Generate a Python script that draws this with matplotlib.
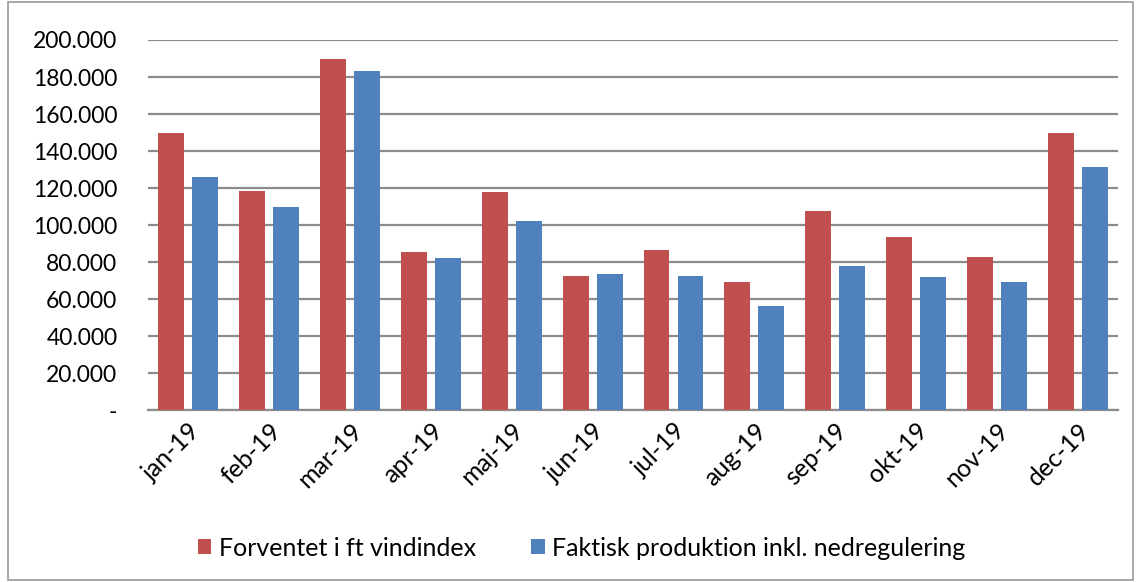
import matplotlib.pyplot as plt
import numpy as np
from matplotlib.patches import Rectangle
from matplotlib.ticker import FuncFormatter

plt.rcParams['font.family'] = ['Lato', 'DejaVu Sans']

months = ["jan-19", "feb-19", "mar-19", "apr-19", "maj-19", "jun-19",
          "jul-19", "aug-19", "sep-19", "okt-19", "nov-19", "dec-19"]
forventet = [150000, 118500, 190000, 85800, 118200, 72800,
             86900, 69600, 107800, 93800, 82600, 150000]
faktisk = [126200, 109800, 183500, 82500, 102200, 73900,
           72800, 56400, 78200, 72000, 69600, 131500]
series_names = ["Forventet i ft vindindex", "Faktisk produktion inkl. nedregulering"]

red = "#C0504D"
blue = "#4F81BD"
grid_col = "#8C8C8C"

fig = plt.figure(figsize=(11.41, 5.82), dpi=100)
ax = fig.add_axes([0.1297, 0.2947, 0.8503, 0.6366])

x = np.arange(len(months))
w = 0.32
ax.bar(x - 0.21, forventet, width=w, color=red, label=series_names[0], zorder=3)
ax.bar(x + 0.21, faktisk, width=w, color=blue, label=series_names[1], zorder=3)

ax.set_xlim(-0.5, len(months) - 0.5)
ax.set_ylim(0, 200000)
ax.set_yticks(range(0, 200001, 20000))


def fmt(v, pos):
    if v == 0:
        return "-"
    return f"{int(v):,}".replace(",", ".")


ax.yaxis.set_major_formatter(FuncFormatter(fmt))
ax.grid(axis='y', color=grid_col, linewidth=1.6, zorder=0)
ax.tick_params(axis='y', length=0, pad=22, labelsize=16.5)
ax.tick_params(axis='x', length=0, pad=6, labelsize=18)
ax.set_xticks(x)
ax.set_xticklabels(months, rotation=45, ha='right', rotation_mode='anchor')
for s in ['top', 'right', 'left']:
    ax.spines[s].set_visible(False)
ax.spines['bottom'].set_color(grid_col)
ax.spines['bottom'].set_linewidth(1.6)

fig.legend(loc='center', bbox_to_anchor=(0.5096, 0.058), ncol=2, frameon=False,
           fontsize=18, handlelength=0.55, handleheight=0.55, handletextpad=0.3,
           columnspacing=2.2)

# outer chart border
fig.patches.append(Rectangle((0.007, 0.003), 0.986, 0.994, transform=fig.transFigure,
                             fill=False, edgecolor="#9A9A9A", linewidth=1.2))

fig.savefig("out.png", dpi=100)
